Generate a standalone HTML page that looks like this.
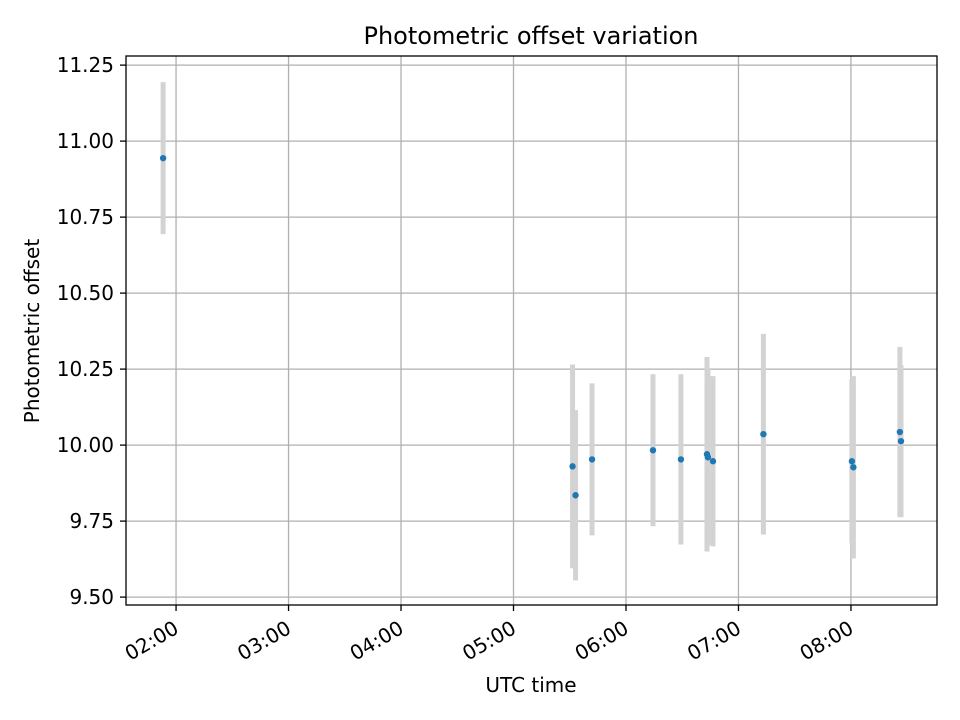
<!DOCTYPE html>
<html><head><meta charset="utf-8"><style>
body{margin:0;background:#fff;}
svg{display:block;font-family:"DejaVu Sans","Liberation Sans",sans-serif;}
</style></head><body>
<svg id="chart" width="960" height="720">
<rect width="960" height="720" fill="#fff"/>
<text x="531" y="44" text-anchor="middle" font-size="24">Photometric offset variation</text>
<g id="grid"></g><g id="errs"></g><g id="pts"></g><g id="axes"></g>
<text x="531" y="692" text-anchor="middle" font-size="20">UTC time</text>
<text transform="translate(39,331) rotate(-90)" text-anchor="middle" font-size="20">Photometric offset</text>
</svg>
<script>
const times = [113.1,331.5,333.1,341.9,374.4,389.3,403.2,403.7,406.4,433.3,480.5,481.3,506.1,506.7];
const values = [10.944,9.93,9.835,9.953,9.983,9.953,9.97,9.96,9.947,10.036,9.947,9.927,10.043,10.013];
const errors = [0.25,0.335,0.28,0.25,0.25,0.28,0.32,0.29,0.28,0.33,0.27,0.3,0.28,0.25];
const yTicks = [9.5,9.75,10.0,10.25,10.5,10.75,11.0,11.25];
const xTickLabels = ["02:00","03:00","04:00","05:00","06:00","07:00","08:00"];
const xTickMinutes = [120,180,240,300,360,420,480];
const L=126,R=937,T=56,B=605;
const xMin=93.3,xMax=525.9,yMin=9.474,yMax=11.280;
const xs=m=>L+(m-xMin)/(xMax-xMin)*(R-L);
const ys=v=>B-(v-yMin)/(yMax-yMin)*(B-T);
const NS="http://www.w3.org/2000/svg";
function mk(tag,attrs,parent){const e=document.createElementNS(NS,tag);for(const k in attrs)e.setAttribute(k,attrs[k]);parent.appendChild(e);return e;}
const grid=document.getElementById('grid'),errs=document.getElementById('errs'),pts=document.getElementById('pts'),axes=document.getElementById('axes');
yTicks.forEach(v=>{const y=ys(v);
 const g=mk('line',{x1:L,x2:R,y1:y,y2:y,stroke:'#b0b0b0','stroke-width':1.3},grid);
 
 
 mk('line',{x1:L-6,x2:L,y1:y,y2:y,stroke:'#000','stroke-width':1.3},axes);
 const t=mk('text',{x:L-12,y:y+7,'text-anchor':'end','font-size':20},axes);t.textContent=v.toFixed(2);
 
 
});
xTickMinutes.forEach((m,i)=>{const x=xs(m);
 const g=mk('line',{x1:x,x2:x,y1:T,y2:B,stroke:'#b0b0b0','stroke-width':1.3},grid);
 
 
 mk('line',{x1:x,x2:x,y1:B,y2:B+6,stroke:'#000','stroke-width':1.3},axes);
 const t=mk('text',{transform:`translate(${x-3},${B+15}) rotate(-30)`,'text-anchor':'end','font-size':20,y:14},axes);t.textContent=xTickLabels[i];
 
 
});
times.forEach((m,i)=>{const x=xs(m);
 const e=mk('line',{x1:x,x2:x,y1:ys(values[i]+errors[i]),y2:ys(values[i]-errors[i]),stroke:'#d3d3d3','stroke-width':5},errs);
 
 
 const c=mk('circle',{cx:x,cy:ys(values[i]),r:3.2,fill:'#1f77b4'},pts);
 
 
});
const f=mk('rect',{x:L,y:T,width:R-L,height:B-T,fill:'none',stroke:'#000','stroke-width':1.3},axes);


</script>
</body></html>
